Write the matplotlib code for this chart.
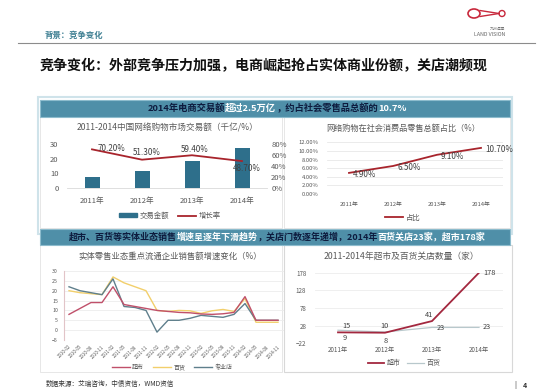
'''
Slide: e-commerce growth vs. physical retail slowdown and store closures
'''
import matplotlib
matplotlib.use('Agg')
import matplotlib.pyplot as plt
import matplotlib.patches as mpatches
from matplotlib.lines  import Line2D
from matplotlib.ticker import FuncFormatter

plt.rcParams['font.family'] = ['Noto Sans CJK SC', 'DejaVu Sans']

W, H = 553, 390

# upper left: online shopping market (千亿 / %)
years        = ['2011年', '2012年', '2013年', '2014年']
trade_amount = [7.5, 11.5, 18.4, 27.0]
trade_growth = [70.2, 51.3, 59.4, 48.7]
growth_txt   = ['70.20%', '51.30%', '59.40%', '48.70%']

# upper right: share of retail sales (%)
retail_share = [4.9, 6.5, 9.1, 10.7]
share_txt    = ['4.90%', '6.50%', '9.10%', '10.70%']

# lower left: sales growth of key retailers (%)
months = ['2010-02', '2010-05', '2010-08', '2010-11', '2011-02', '2011-05', '2011-08',
          '2011-11', '2012-02', '2012-05', '2012-08', '2012-11', '2013-02', '2013-05',
          '2013-08', '2013-11', '2014-02', '2014-05', '2014-08', '2014-11']
growth_super = [8, 11, 14, 14, 22, 13, 12, 11, 10, 9.5, 9, 8.8, 8.2, 8, 8.3, 9, 17, 5, 5, 5]
growth_dept  = [20, 19, 18.5, 18, 27, 24, 22, 20, 10, 9.5, 10, 9.8, 8.5, 9.8, 10.5, 9.5, 16, 4, 4, 4]
growth_spec  = [22, 20, 19, 18, 26, 12, 11.5, 10, -1, 5, 5, 6, 7.5, 7, 6.5, 8, 13.5, 5, 5, 5]

# lower right: store closures
close_super = [9, 8, 41, 178]
close_dept  = [15, 10, 23, 23]

GREY = '#595959'
# --------------------------------
def _box(x, y, w, h):
    return [x / W, 1 - (y + h) / H, w / W, h / H]
# --------------------------------
def _fx(x):
    return x / W
# --------------------------------
def _fy(y):
    return 1 - y / H
# --------------------------------
def _rect(fig, x, y, w, h, **kw):
    p = mpatches.Rectangle((_fx(x), _fy(y + h)), w / W, h / H, transform=fig.transFigure, zorder=-5, **kw)
    fig.add_artist(p)
# --------------------------------
def _rich_text(fig, segs, xc, y, size):
    rnd   = fig.canvas.get_renderer()
    texts = []
    for txt, col in segs:
        t = fig.text(0, _fy(y), txt, color=col, fontsize=size, fontweight='bold', ha='left', va='center')
        texts.append((t, t.get_window_extent(rnd).width))

    total = sum(w for _, w in texts)
    x     = xc - total / 2
    for t, w in texts:
        t.set_x(_fx(x))
        x += w
# --------------------------------
def _frame(fig):
    fig.text(_fx(45), _fy(35), '背景：竞争变化', fontsize=6, fontweight='bold', color='#3d7f92', va='center')
    fig.add_artist(Line2D([_fx(18), _fx(535)], [_fy(43), _fy(43)], color='#8c8c8c', lw=0.8, transform=fig.transFigure))

    # logo
    red = '#c8283c'
    fig.add_artist(mpatches.Ellipse((_fx(474), _fy(13.5)), 12 / W, 9 / H, fill=False, edgecolor=red, lw=1.2, transform=fig.transFigure))
    fig.add_artist(Line2D([_fx(480), _fx(499)], [_fy(10.5), _fy(13.5)], color=red, lw=1.0, transform=fig.transFigure))
    fig.add_artist(Line2D([_fx(480), _fx(499)], [_fy(16.5), _fy(13.5)], color=red, lw=1.0, transform=fig.transFigure))
    fig.add_artist(mpatches.Ellipse((_fx(502), _fy(13.5)), 6 / W, 6 / H, fill=False, edgecolor=red, lw=1.0, transform=fig.transFigure))
    fig.text(_fx(505), _fy(29), '九洲远景', fontsize=2.8, color='#777777', ha='right', va='center')
    fig.text(_fx(505), _fy(34), 'LAND VISION', fontsize=3.8, color='#666666', ha='right', va='center')

    fig.text(_fx(40), _fy(66), '竞争变化：外部竞争压力加强，电商崛起抢占实体商业份额，关店潮频现',
             fontsize=10.1, fontweight='bold', color='#111111', va='center')

    # panels
    _rect(fig, 38, 97, 474, 137, facecolor='white', edgecolor='#cfe3ea', lw=1.5)
    _rect(fig, 40, 117, 242, 111, facecolor='white', edgecolor='#e3e3e3', lw=0.6)
    _rect(fig, 284, 117, 226, 111, facecolor='white', edgecolor='#e3e3e3', lw=0.6)
    _rect(fig, 40, 245, 242, 127, facecolor='white', edgecolor='#e3e3e3', lw=0.6)
    _rect(fig, 284, 245, 228, 127, facecolor='white', edgecolor='#d8d8d8', lw=0.8)

    bar = '#4f8fa8'
    dark = '#0d1b3e'
    _rect(fig, 40, 100, 470, 16.5, facecolor=bar, edgecolor='#8dbccd', lw=0.8)
    _rect(fig, 40, 229, 470, 16, facecolor=bar, edgecolor='#8dbccd', lw=0.8)

    _rich_text(fig, [('2014年电商交易额', dark), ('超过2.5万亿', 'white'),
                     ('，约占社会零售品总额的', dark), ('10.7%', 'white')], 277, 108.5, 6.7)
    _rich_text(fig, [('超市、百货等实体业态销售', dark), ('增速呈逐年下滑趋势', 'white'),
                     ('，关店门数逐年递增，2014年', dark), ('百货关店23家，超市178家', 'white')], 277, 237, 6.5)

    fig.text(_fx(46), _fy(384), '数据来源：艾瑞咨询，中债资信，WMD资信', fontsize=4.8, color='#333333', va='center')
    fig.text(_fx(515), _fy(385), '|', fontsize=5, color='#333333', va='center', ha='center')
    fig.text(_fx(525), _fy(385), '4', fontsize=5, fontweight='bold', color='#333333', va='center', ha='center')
# --------------------------------
def _style(ax, size):
    for side in ['top', 'right', 'left', 'bottom']:
        ax.spines[side].set_visible(False)
    ax.tick_params(length=0, labelsize=size, labelcolor=GREY)
    ax.set_facecolor('none')
# --------------------------------
def _upper_left(fig):
    ax = fig.add_axes(_box(67, 144, 200, 43.7))
    _style(ax, 5.5)
    xs = range(len(years))
    ax.bar(xs, trade_amount, width=0.3, color='#2e6f8b', zorder=2)
    ax.set_xlim(-0.5, 3.5)
    ax.set_ylim(0, 30)
    ax.set_yticks([0, 10, 20, 30])
    ax.set_xticks(list(xs))
    ax.set_xticklabels(years)
    ax.tick_params(axis='y', pad=6)
    ax.tick_params(axis='x', pad=7)
    ax.spines['bottom'].set_visible(True)
    ax.spines['bottom'].set_color('#d9d9d9')
    ax.spines['bottom'].set_linewidth(0.6)

    ax2 = ax.twinx()
    _style(ax2, 5.5)
    ax2.plot(xs, trade_growth, color='#a8242c', lw=1.3, zorder=3)
    ax2.set_ylim(0, 80)
    ax2.set_yticks([0, 20, 40, 60, 80])
    ax2.yaxis.set_major_formatter(FuncFormatter(lambda v, _: f'{v:.0f}%'))
    ax2.tick_params(axis='y', pad=3)

    offsets = [(19, 1), (5, 7), (3, 6), (5, -7)]
    for x, y, txt, off in zip(xs, trade_growth, growth_txt, offsets):
        ax2.annotate(txt, (x, y), xytext=off, textcoords='offset pixels', ha='center', va='center',
                     fontsize=5.8, color='#404040', zorder=4)

    fig.text(_fx(168), _fy(128), '2011-2014中国网络购物市场交易额（千亿/%）', fontsize=6.2, color=GREY, ha='center', va='center')

    handles = [mpatches.Patch(color='#2e6f8b'), Line2D([0], [0], color='#a8242c', lw=1.3)]
    fig.legend(handles, ['交易金额', '增长率'], loc='center', bbox_to_anchor=(_fx(170), _fy(216)), ncol=2,
               frameon=False, fontsize=5.3, handlelength=2.4, handleheight=0.5, columnspacing=1.2,
               handletextpad=0.4, labelcolor=GREY)
# --------------------------------
def _upper_right(fig):
    ax = fig.add_axes(_box(327, 142.3, 176, 51.7))
    _style(ax, 4.2)
    xs = range(len(years))
    ax.plot(xs, retail_share, color='#a8242c', lw=1.3, zorder=3)
    ax.set_xlim(-0.5, 3.5)
    ax.set_ylim(0, 12)
    ax.set_yticks(range(0, 13, 2))
    ax.yaxis.set_major_formatter(FuncFormatter(lambda v, _: f'{v:.2f}%'))
    ax.set_xticks(list(xs))
    ax.set_xticklabels(years)
    ax.tick_params(axis='y', pad=6)
    ax.tick_params(axis='x', pad=6)
    ax.grid(axis='y', color='#e8e8e8', lw=0.6)
    ax.set_axisbelow(True)

    for x, y, txt in zip(xs, retail_share, share_txt):
        ax.annotate(txt, (x, y), xytext=(4, -2), textcoords='offset pixels', ha='left', va='center',
                    fontsize=5.8, color='#404040')

    fig.text(_fx(403), _fy(128), '网络购物在社会消费品零售总额占比（%）', fontsize=5.9, color=GREY, ha='center', va='center')

    fig.legend([Line2D([0], [0], color='#a8242c', lw=1.3)], ['占比'], loc='center',
               bbox_to_anchor=(_fx(403), _fy(218)), frameon=False, fontsize=5.3, handlelength=2.4,
               handletextpad=0.4, labelcolor=GREY)
# --------------------------------
def _lower_left(fig):
    ax = fig.add_axes(_box(63.5, 271, 220, 69))
    _style(ax, 3.8)
    xs = range(len(months))
    c_super, c_dept, c_spec = '#c0506a', '#f2cf6b', '#5f7f8c'
    ax.plot(xs, growth_dept , color=c_dept , lw=1.0, zorder=2)
    ax.plot(xs, growth_spec , color=c_spec , lw=1.0, zorder=3)
    ax.plot(xs, growth_super, color=c_super, lw=1.0, zorder=4)
    ax.set_xlim(-0.5, 19.5)
    ax.set_ylim(-5, 30)
    ax.set_yticks(range(-5, 31, 5))
    ax.set_xticks(list(xs))
    ax.set_xticklabels(months, rotation=45, ha='right', rotation_mode='anchor', fontsize=3.2)
    ax.tick_params(axis='y', pad=4)
    ax.tick_params(axis='x', pad=3)
    ax.grid(axis='y', color='#ececec', lw=0.6)
    ax.set_axisbelow(True)
    ax.spines['left'].set_visible(True)
    ax.spines['left'].set_color('#e2c4c8')
    ax.spines['left'].set_linewidth(0.8)

    fig.text(_fx(170), _fy(256), '实体零售业态重点流通企业销售额增速变化（%）', fontsize=6.0, color=GREY, ha='center', va='center')

    handles = [Line2D([0], [0], color=c, lw=1.0) for c in [c_super, c_dept, c_spec]]
    fig.legend(handles, ['超市', '百货', '专业店'], loc='center', bbox_to_anchor=(_fx(172), _fy(367)), ncol=3,
               frameon=False, fontsize=4.3, handlelength=3.0, columnspacing=1.5, handletextpad=0.4,
               labelcolor=GREY)
# --------------------------------
def _lower_right(fig):
    ax = fig.add_axes(_box(314.5, 272.7, 188, 70.6))
    _style(ax, 4.5)
    xs = range(len(years))
    c_super, c_dept = '#a3283f', '#b8c8cc'
    ax.plot(xs, close_dept , color=c_dept , lw=0.9, zorder=2)
    ax.plot(xs, close_super, color=c_super, lw=1.3, zorder=3)
    ax.set_xlim(-0.5, 3.5)
    ax.set_ylim(-22, 178)
    ax.set_yticks(range(-22, 179, 50))
    ax.set_xticks(list(xs))
    ax.set_xticklabels(years)
    ax.tick_params(axis='y', pad=6)
    ax.tick_params(axis='x', pad=2)
    ax.grid(axis='y', color='#ececec', lw=0.6)
    ax.set_axisbelow(True)

    lbl = dict(fontsize=5.3, color='#404040', ha='center', va='center', textcoords='offset pixels')
    sup_off  = [(7, -6), (1, -8), (-3, 6), (11, 0)]
    dept_off = [(8, 4), (-1, 6), (9, -1), (8, 0)]
    for x, y, off in zip(xs, close_super, sup_off):
        ax.annotate(str(y), (x, y), xytext=off, **lbl)
    for x, y, off in zip(xs, close_dept, dept_off):
        ax.annotate(str(y), (x, y), xytext=off, **lbl)

    fig.text(_fx(401), _fy(257), '2011-2014年超市及百货关店数量（家）', fontsize=6.3, color=GREY, ha='center', va='center')

    handles = [Line2D([0], [0], color=c_super, lw=1.3), Line2D([0], [0], color=c_dept, lw=0.9)]
    fig.legend(handles, ['超市', '百货'], loc='center', bbox_to_anchor=(_fx(404), _fy(363)), ncol=2,
               frameon=False, fontsize=5.0, handlelength=2.4, columnspacing=1.0, handletextpad=0.3,
               labelcolor=GREY)
# --------------------------------
def main():
    '''
    Start here
    '''
    fig = plt.figure(figsize=(W / 100, H / 100), dpi=100)
    fig.patch.set_facecolor('white')

    _frame(fig)
    _upper_left(fig)
    _upper_right(fig)
    _lower_left(fig)
    _lower_right(fig)

    fig.savefig('out.png', dpi=100)
    plt.close(fig)
# --------------------------------
if __name__ == '__main__':
    main()
